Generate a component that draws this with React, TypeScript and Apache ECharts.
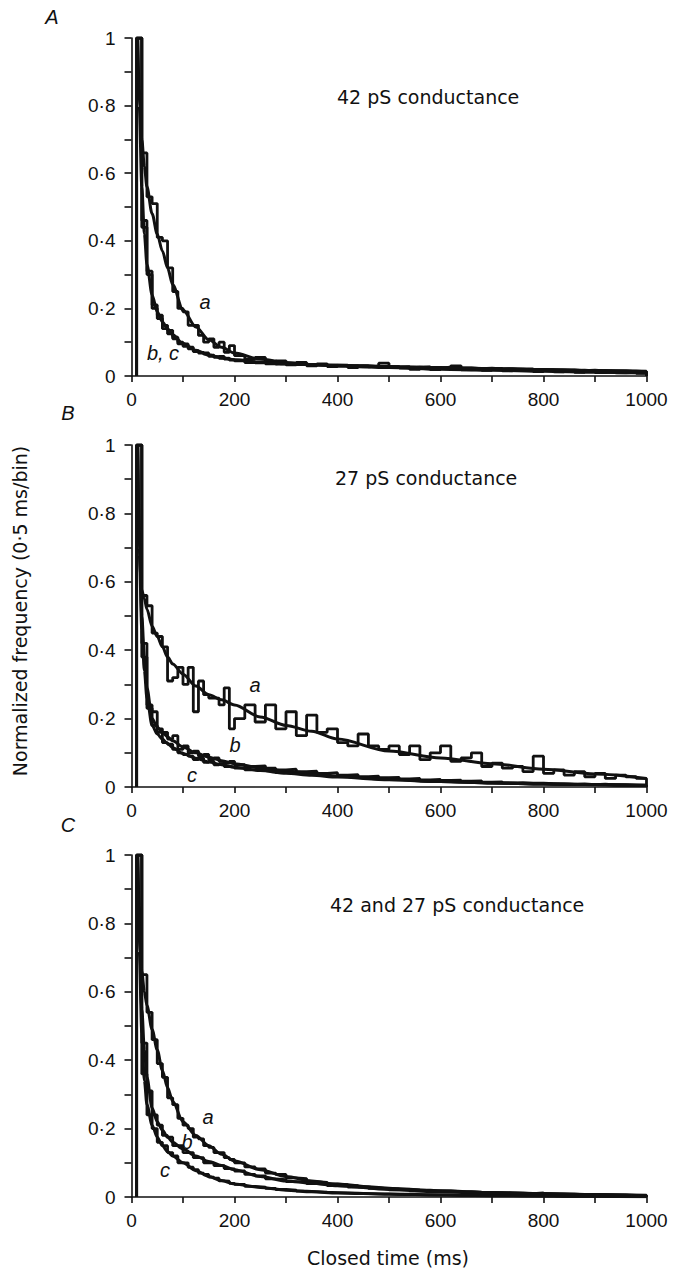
import React, { useEffect, useRef } from "react";
import * as echarts from "echarts";

// Histogram bin edges (ms)
const BIN_EDGES = [
  10, 20, 30, 40, 50, 60, 70, 80, 90, 100, 110, 120, 130, 140, 150, 160, 170, 180, 190, 200,
  220, 240, 260, 280, 300, 320, 340, 360, 380, 400,
  420, 440, 460, 480, 500, 520, 540, 560, 580, 600,
  620, 640, 660, 680, 700, 720, 740, 760, 780, 800,
  820, 840, 860, 880, 900, 920, 940, 960, 980, 1000,
];

// Panel A (42 pS) histograms
const histA_a = [
  1.0, 0.66, 0.53, 0.51, 0.41, 0.4, 0.32, 0.25, 0.2, 0.19,
  0.15, 0.15, 0.12, 0.1, 0.11, 0.085, 0.1, 0.07, 0.09,
  0.06, 0.05, 0.055, 0.04, 0.045, 0.035, 0.04, 0.03, 0.036, 0.028,
  0.032, 0.025, 0.03, 0.027, 0.038, 0.028, 0.024, 0.02, 0.026, 0.019,
  0.022, 0.03, 0.018, 0.02, 0.017, 0.021, 0.015, 0.018, 0.016, 0.013,
  0.017, 0.012, 0.015, 0.011, 0.014, 0.01, 0.012, 0.009, 0.011, 0.008,
];
const histA_b = [
  1.0, 0.46, 0.3, 0.2, 0.17, 0.14, 0.135, 0.11, 0.1, 0.095,
  0.08, 0.075, 0.07, 0.065, 0.062, 0.055, 0.058, 0.05, 0.048,
  0.045, 0.04, 0.042, 0.036, 0.038, 0.033, 0.036, 0.032, 0.034, 0.03,
  0.031, 0.029, 0.03, 0.028, 0.029, 0.026, 0.028, 0.025, 0.027, 0.024,
  0.026, 0.023, 0.024, 0.022, 0.023, 0.021, 0.022, 0.02, 0.021, 0.018,
  0.019, 0.017, 0.018, 0.016, 0.017, 0.015, 0.015, 0.014, 0.014, 0.013,
];
const histA_c = [
  1.0, 0.44, 0.31, 0.21, 0.18, 0.15, 0.125, 0.115, 0.095, 0.088,
  0.085, 0.072, 0.068, 0.068, 0.058, 0.057, 0.052, 0.053, 0.047,
  0.047, 0.042, 0.039, 0.039, 0.035, 0.037, 0.034, 0.033, 0.031, 0.032,
  0.029, 0.031, 0.027, 0.029, 0.026, 0.027, 0.024, 0.026, 0.023, 0.025,
  0.022, 0.023, 0.021, 0.022, 0.02, 0.022, 0.019, 0.02, 0.018, 0.019,
  0.017, 0.018, 0.016, 0.017, 0.015, 0.016, 0.014, 0.015, 0.013, 0.013,
];

// Panel B (27 pS) histograms
const histB_a = [
  1.0, 0.56, 0.53, 0.45, 0.44, 0.41, 0.31, 0.32, 0.35, 0.3,
  0.35, 0.22, 0.31, 0.27, 0.26, 0.26, 0.24, 0.29, 0.17,
  0.2, 0.24, 0.19, 0.24, 0.17, 0.22, 0.15, 0.21, 0.16, 0.17,
  0.13, 0.12, 0.155, 0.12, 0.11, 0.12, 0.095, 0.12, 0.08, 0.1,
  0.12, 0.075, 0.085, 0.1, 0.06, 0.07, 0.055, 0.06, 0.045, 0.09,
  0.04, 0.05, 0.035, 0.045, 0.03, 0.04, 0.025, 0.035, 0.03, 0.025,
];
const histB_b = [
  1.0, 0.42, 0.24, 0.22, 0.17, 0.16, 0.14, 0.15, 0.11, 0.12,
  0.1, 0.105, 0.09, 0.095, 0.08, 0.085, 0.075, 0.07, 0.075,
  0.065, 0.06, 0.062, 0.055, 0.05, 0.052, 0.045, 0.046, 0.04, 0.042,
  0.035, 0.036, 0.03, 0.032, 0.027, 0.028, 0.024, 0.025, 0.021, 0.022,
  0.019, 0.02, 0.017, 0.018, 0.014, 0.015, 0.012, 0.013, 0.011, 0.011,
  0.01, 0.009, 0.008, 0.009, 0.007, 0.008, 0.006, 0.006, 0.005, 0.005,
];
const histB_c = [
  1.0, 0.38, 0.23, 0.18, 0.16, 0.13, 0.125, 0.11, 0.1, 0.095,
  0.09, 0.08, 0.085, 0.072, 0.075, 0.065, 0.068, 0.06, 0.058,
  0.055, 0.05, 0.048, 0.046, 0.042, 0.04, 0.038, 0.036, 0.034, 0.031,
  0.03, 0.028, 0.027, 0.025, 0.023, 0.022, 0.02, 0.021, 0.018, 0.017,
  0.016, 0.015, 0.014, 0.013, 0.012, 0.012, 0.011, 0.01, 0.009, 0.009,
  0.008, 0.008, 0.007, 0.007, 0.006, 0.006, 0.005, 0.005, 0.005, 0.004,
];

// Panel C (42 and 27 pS) histograms
const histC_a = [
  1.0, 0.65, 0.54, 0.46, 0.39, 0.35, 0.29, 0.27, 0.23, 0.21,
  0.2, 0.175, 0.17, 0.15, 0.145, 0.13, 0.13, 0.115, 0.11,
  0.1, 0.088, 0.082, 0.07, 0.066, 0.056, 0.054, 0.045, 0.043, 0.038,
  0.036, 0.033, 0.03, 0.028, 0.026, 0.024, 0.023, 0.021, 0.02, 0.018,
  0.018, 0.016, 0.016, 0.014, 0.013, 0.013, 0.012, 0.011, 0.01, 0.012,
  0.009, 0.008, 0.008, 0.007, 0.007, 0.006, 0.006, 0.006, 0.005, 0.005,
];
const histC_b = [
  1.0, 0.45, 0.31, 0.24, 0.21, 0.18, 0.175, 0.15, 0.15, 0.13,
  0.13, 0.115, 0.115, 0.1, 0.1, 0.092, 0.092, 0.083, 0.082,
  0.076, 0.066, 0.062, 0.053, 0.051, 0.045, 0.044, 0.039, 0.038, 0.033,
  0.032, 0.029, 0.028, 0.025, 0.024, 0.021, 0.021, 0.018, 0.018, 0.016,
  0.016, 0.014, 0.013, 0.012, 0.012, 0.011, 0.01, 0.01, 0.009, 0.009,
  0.008, 0.008, 0.007, 0.007, 0.006, 0.006, 0.005, 0.005, 0.005, 0.004,
];
const histC_c = [
  1.0, 0.36, 0.24, 0.2, 0.16, 0.15, 0.13, 0.12, 0.1, 0.1,
  0.087, 0.08, 0.07, 0.066, 0.058, 0.055, 0.047, 0.046, 0.04,
  0.037, 0.031, 0.029, 0.025, 0.022, 0.02, 0.017, 0.016, 0.014, 0.013,
  0.012, 0.011, 0.01, 0.009, 0.009, 0.008, 0.008, 0.007, 0.006, 0.006,
  0.006, 0.005, 0.005, 0.005, 0.004, 0.004, 0.004, 0.003, 0.003, 0.003,
  0.003, 0.002, 0.002, 0.002, 0.002, 0.002, 0.001, 0.001, 0.001, 0.001,
];

// Fitted curves sampled at these closed times (ms)
const FIT_X = [12, 15, 20, 25, 30, 40, 50, 60, 70, 80, 100, 125, 150, 175, 200, 250, 300, 350, 400, 500, 600, 700, 800, 900, 1000];
const fitA_a = [1.0, 0.85, 0.7, 0.62, 0.56, 0.48, 0.42, 0.37, 0.32, 0.27, 0.195, 0.145, 0.107, 0.085, 0.068, 0.05, 0.04, 0.034, 0.03, 0.025, 0.02, 0.017, 0.014, 0.011, 0.009];
const fitA_bc = [1.0, 0.8, 0.56, 0.42, 0.33, 0.24, 0.19, 0.16, 0.14, 0.122, 0.096, 0.076, 0.062, 0.054, 0.048, 0.041, 0.036, 0.034, 0.032, 0.028, 0.025, 0.022, 0.019, 0.016, 0.014];
const fitB_a = [1.0, 0.68, 0.575, 0.55, 0.52, 0.47, 0.44, 0.41, 0.38, 0.36, 0.33, 0.295, 0.27, 0.255, 0.24, 0.205, 0.18, 0.163, 0.14, 0.105, 0.085, 0.068, 0.052, 0.038, 0.025];
const fitB_b = [1.0, 0.75, 0.5, 0.38, 0.29, 0.2, 0.175, 0.16, 0.147, 0.135, 0.117, 0.1, 0.087, 0.077, 0.068, 0.056, 0.047, 0.039, 0.032, 0.022, 0.016, 0.012, 0.009, 0.007, 0.005];
const fitB_c = [1.0, 0.7, 0.46, 0.34, 0.26, 0.18, 0.155, 0.14, 0.127, 0.115, 0.098, 0.084, 0.073, 0.065, 0.058, 0.048, 0.04, 0.034, 0.029, 0.021, 0.016, 0.012, 0.009, 0.007, 0.005];
const fitC_a = [1.0, 0.85, 0.66, 0.6, 0.56, 0.49, 0.43, 0.37, 0.32, 0.28, 0.22, 0.18, 0.15, 0.125, 0.105, 0.08, 0.06, 0.047, 0.037, 0.025, 0.018, 0.013, 0.01, 0.007, 0.005];
const fitC_b = [1.0, 0.8, 0.55, 0.43, 0.35, 0.26, 0.22, 0.195, 0.175, 0.16, 0.14, 0.12, 0.104, 0.092, 0.08, 0.06, 0.047, 0.04, 0.033, 0.022, 0.015, 0.01, 0.008, 0.006, 0.004];
const fitC_c = [1.0, 0.72, 0.48, 0.34, 0.27, 0.21, 0.175, 0.15, 0.133, 0.12, 0.1, 0.077, 0.06, 0.048, 0.038, 0.028, 0.02, 0.015, 0.012, 0.008, 0.006, 0.004, 0.003, 0.002, 0.001];

const PANEL_TITLES = ["42 pS conductance", "27 pS conductance", "42 and 27 pS conductance"];
const PANEL_LETTERS = ["A", "B", "C"];
const X_TITLE = "Closed time (ms)";
const Y_TITLE = "Normalized frequency (0·5 ms/bin)";

const PANELS = [
  { hists: [histA_a, histA_b, histA_c], fits: [fitA_a, fitA_bc] },
  { hists: [histB_a, histB_b, histB_c], fits: [fitB_a, fitB_b, fitB_c] },
  { hists: [histC_a, histC_b, histC_c], fits: [fitC_a, fitC_b, fitC_c] },
];

const FONT = "'Liberation Sans', Arial, Helvetica, sans-serif";
const WIDE = "'DejaVu Sans', 'Liberation Sans', sans-serif";
const INK = "#111";

function stepData(edges: number[], vals: number[]) {
  const pts: number[][] = [[edges[0], 0]];
  for (let i = 0; i < vals.length; i++) {
    pts.push([edges[i], vals[i]]);
    pts.push([edges[i + 1], vals[i]]);
  }
  pts.push([edges[vals.length], 0]);
  return pts;
}

export default function App() {
  const ref = useRef<HTMLDivElement>(null);
  useEffect(() => {
    document.body.style.margin = "0";
    const chart = echarts.init(ref.current!, undefined, { renderer: "svg" });
    const gridTops = [38, 445, 855];
    const gridHeights = [338, 342, 342];
    const grids = gridTops.map((t, i) => ({
      left: 131.5,
      width: 515,
      top: t,
      height: gridHeights[i],
      containLabel: false,
      outerBoundsMode: "none",
    }));
    const xLabel = (v: number) => (Math.round(v) % 200 === 0 ? String(Math.round(v)) : "");
    const yLabel = (v: number) => {
      const r = Math.round(v * 10);
      if (r % 2 !== 0) return "";
      if (r === 0) return "0";
      if (r === 10) return "1";
      return "0·" + r;
    };
    const xAxes = gridTops.map((_, i) => ({
      gridIndex: i,
      type: "value",
      min: 0,
      max: 1000,
      interval: 100,
      axisLine: { show: true, onZero: false, lineStyle: { color: INK, width: 1.6 } },
      axisTick: { show: true, length: 6, lineStyle: { color: INK, width: 1.6 } },
      axisLabel: { formatter: xLabel, color: INK, fontSize: 19, fontFamily: FONT, margin: 14 },
      splitLine: { show: false },
    }));
    const yAxes = gridTops.map((_, i) => ({
      gridIndex: i,
      type: "value",
      min: 0,
      max: 1,
      interval: 0.1,
      axisLine: { show: true, onZero: false, lineStyle: { color: INK, width: 1.6 } },
      axisTick: { show: true, length: 7, lineStyle: { color: INK, width: 1.6 } },
      axisLabel: { formatter: yLabel, color: INK, fontSize: 19, fontFamily: FONT, margin: 16 },
      splitLine: { show: false },
    }));
    const series: any[] = [];
    PANELS.forEach((p, i) => {
      p.hists.forEach((h) => {
        series.push({
          type: "line",
          xAxisIndex: i,
          yAxisIndex: i,
          data: stepData(BIN_EDGES, h),
          symbol: "none",
          lineStyle: { color: INK, width: 2.8 },
          z: 2,
        });
      });
      p.fits.forEach((f) => {
        series.push({
          type: "line",
          xAxisIndex: i,
          yAxisIndex: i,
          data: FIT_X.map((x, k) => [x, f[k]]),
          symbol: "none",
          smooth: 0.3,
          smoothMonotone: "x",
          lineStyle: { color: INK, width: 3 },
          z: 3,
        });
      });
    });

    const italic = (text: string, x: number, y: number) => ({
      type: "text",
      x,
      y,
      style: {
        text,
        fill: INK,
        font: `italic 20px ${FONT}`,
        textAlign: "center",
        textVerticalAlign: "middle",
      },
    });
    const plain = (text: string, x: number, y: number, align = "left") => ({
      type: "text",
      x,
      y,
      style: {
        text,
        fill: INK,
        font: `19px ${WIDE}`,
        textAlign: align,
        textVerticalAlign: "middle",
      },
    });

    const graphic: any[] = [
      italic(PANEL_LETTERS[0], 52, 17),
      italic(PANEL_LETTERS[1], 68, 413),
      italic(PANEL_LETTERS[2], 68, 825),
      plain(PANEL_TITLES[0], 337, 97),
      plain(PANEL_TITLES[1], 335, 478),
      plain(PANEL_TITLES[2], 330, 905),
      italic("a", 205, 302),
      italic("b, c", 163, 353),
      italic("a", 255, 685),
      italic("b", 235, 745),
      italic("c", 192, 775),
      italic("a", 208, 1117),
      italic("b", 187, 1142),
      italic("c", 165, 1170),
      plain(X_TITLE, 388, 1258, "center"),
      {
        type: "text",
        x: 20,
        y: 611,
        rotation: Math.PI / 2,
        style: {
          text: Y_TITLE,
          fill: INK,
          font: `19px ${WIDE}`,
          textAlign: "center",
          textVerticalAlign: "middle",
        },
      },
    ];

    chart.setOption({
      animation: false,
      backgroundColor: "#fff",
      grid: grids,
      xAxis: xAxes,
      yAxis: yAxes,
      series,
      graphic,
    });
    return () => chart.dispose();
  }, []);
  return <div ref={ref} style={{ width: 675, height: 1273 }} />;
}
